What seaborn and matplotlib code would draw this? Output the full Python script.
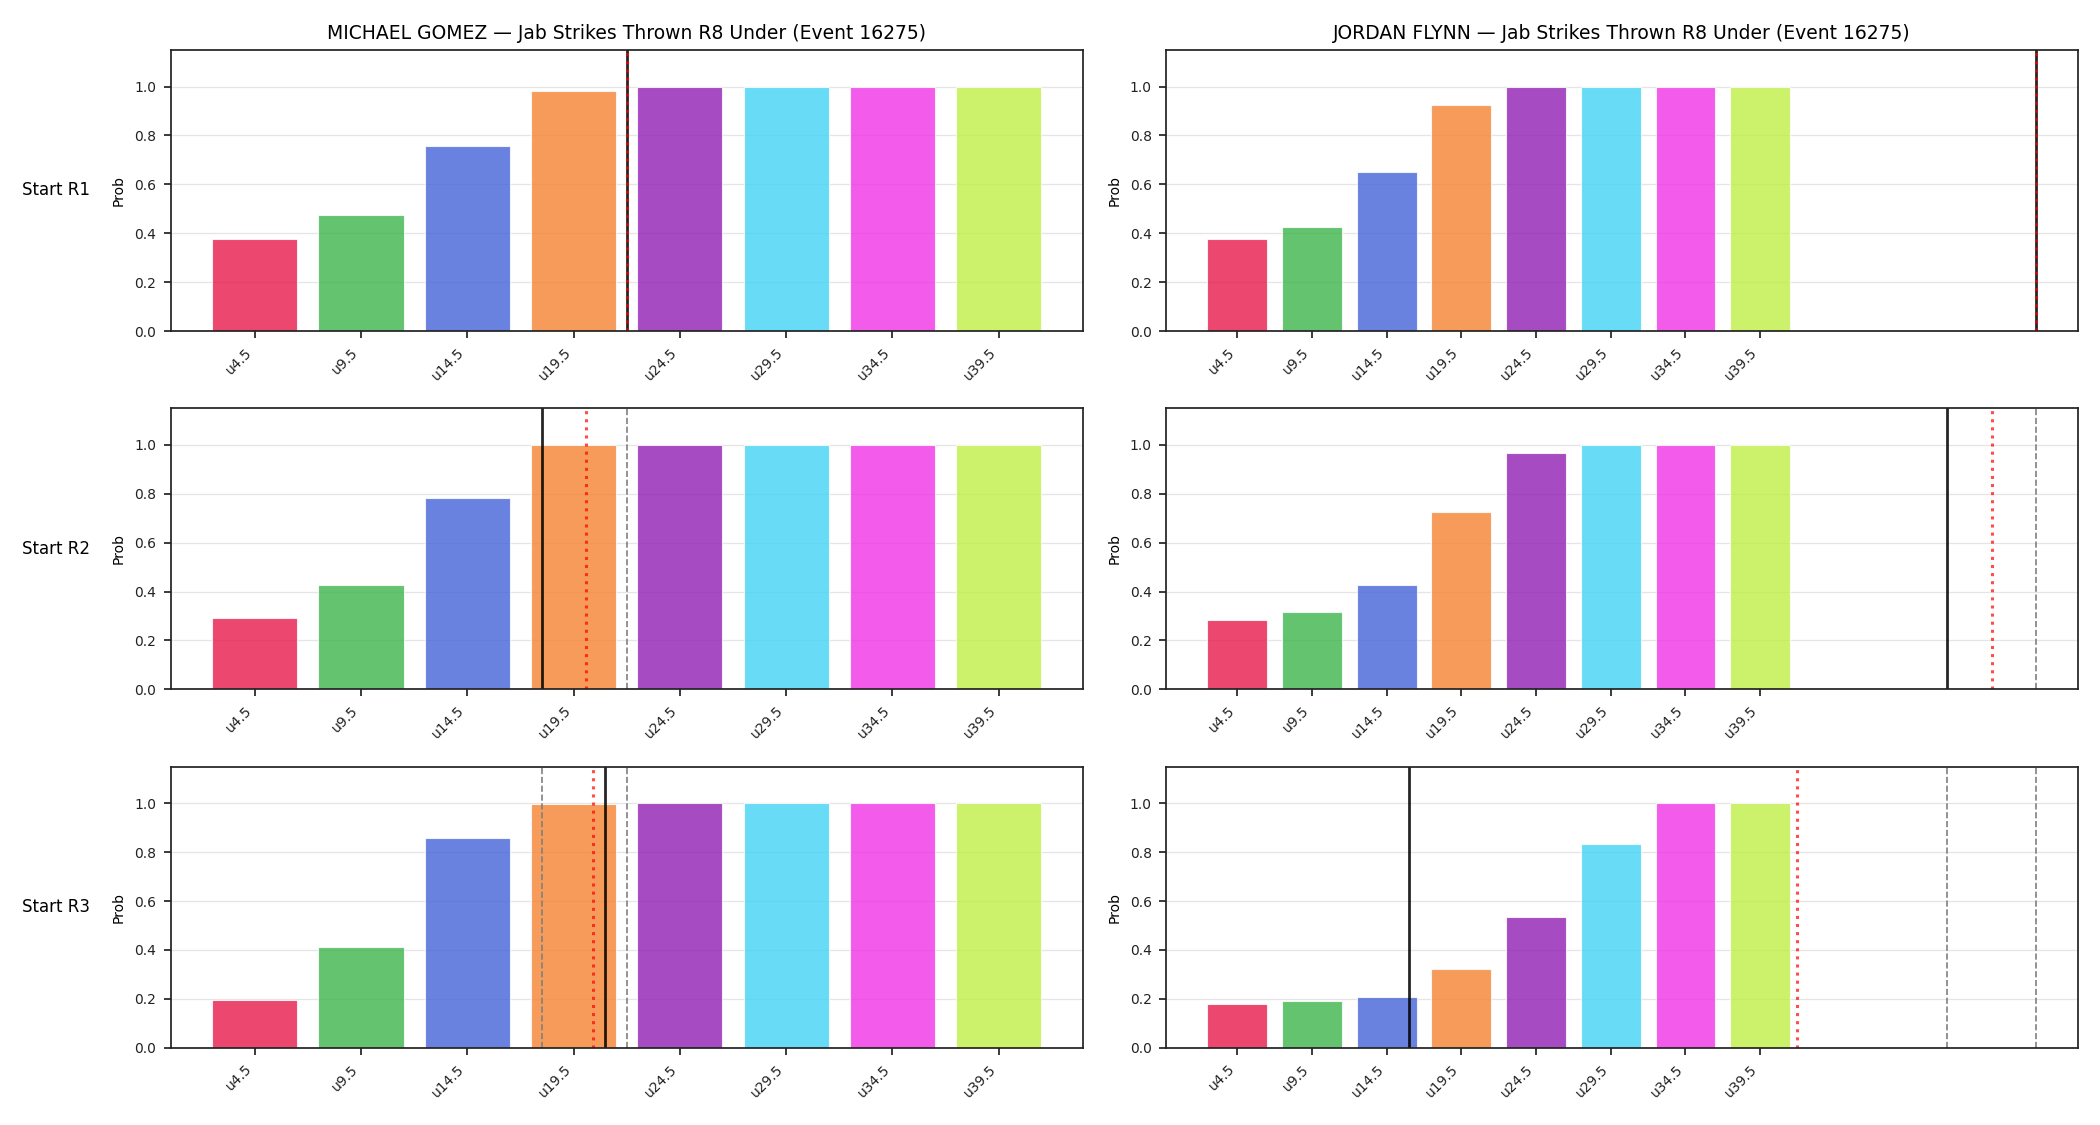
import numpy as np
import pandas as pd
import matplotlib
matplotlib.use("Agg")
import matplotlib.pyplot as plt
import seaborn as sns

# lineas (umbrales) del mercado
thresholds = [4.5, 9.5, 14.5, 19.5, 24.5, 29.5, 34.5, 39.5]
tick_labels = ["u4.5", "u9.5", "u14.5", "u19.5", "u24.5", "u29.5", "u34.5", "u39.5"]
bar_colors = ["#e6194b", "#3cb44b", "#4363d8", "#f58231",
              "#911eb4", "#42d4f4", "#f032e6", "#bfef45"]

fighters = ["MICHAEL GOMEZ", "JORDAN FLYNN"]
row_labels = ["Start R1", "Start R2", "Start R3"]

# probabilidad under por ronda de inicio
gomez_r1 = [0.378, 0.476, 0.759, 0.981, 1.0, 1.0, 1.0, 1.0]
gomez_r2 = [0.292, 0.426, 0.781, 0.998, 1.0, 1.0, 1.0, 1.0]
gomez_r3 = [0.196, 0.412, 0.859, 0.999, 1.0, 1.0, 1.0, 1.0]
flynn_r1 = [0.375, 0.427, 0.650, 0.923, 1.0, 1.0, 1.0, 1.0]
flynn_r2 = [0.284, 0.316, 0.427, 0.726, 0.966, 1.0, 1.0, 1.0]
flynn_r3 = [0.179, 0.191, 0.207, 0.322, 0.536, 0.834, 1.0, 1.0]

# referencias verticales (en golpes)
gomez_current = [22, 18, 21]
gomez_proj = [22, 20.1, 20.4]
flynn_current = [58, 52, 16]
flynn_proj = [58, 55, 42]

probs = {
    "MICHAEL GOMEZ": [gomez_r1, gomez_r2, gomez_r3],
    "JORDAN FLYNN": [flynn_r1, flynn_r2, flynn_r3],
}
current = {"MICHAEL GOMEZ": gomez_current, "JORDAN FLYNN": flynn_current}
proj = {"MICHAEL GOMEZ": gomez_proj, "JORDAN FLYNN": flynn_proj}

sns.set_style("ticks")
plt.rcParams["font.family"] = ["DejaVu Sans"]
plt.rcParams.update({
    "axes.linewidth": 1.25,
    "axes.edgecolor": "#222222",
    "xtick.color": "#222222",
    "ytick.color": "#222222",
    "xtick.major.width": 1.25,
    "ytick.major.width": 1.25,
    "xtick.major.size": 4.8,
    "ytick.major.size": 4.8,
    "xtick.major.pad": 5.5,
    "ytick.major.pad": 5.5,
    "xtick.labelsize": 10,
    "ytick.labelsize": 10,
    "axes.labelsize": 10,
    "axes.titlesize": 13.5,
    "text.color": "black",
    "axes.labelcolor": "black",
})

fig, axes = plt.subplots(3, 2, figsize=(21, 11.25), dpi=100)
plt.subplots_adjust(left=0.0813, right=0.9895, top=0.9556, bottom=0.0687,
                    wspace=0.0913, hspace=0.275)

for col, name in enumerate(fighters):
    for row in range(3):
        ax = axes[row, col]
        df = pd.DataFrame({"line": thresholds, "prob": probs[name][row],
                           "label": tick_labels})
        sns.barplot(data=df, x="line", y="prob", hue="label",
                    palette=bar_colors, hue_order=tick_labels,
                    native_scale=True, dodge=False, legend=False,
                    errorbar=None, saturation=1, alpha=0.8,
                    edgecolor="white", linewidth=0.8, ax=ax)

        # valores previos (rondas anteriores)
        for prev in current[name][:row]:
            ax.axvline(prev, color="gray", linestyle="--", linewidth=1.2)
        ax.axvline(current[name][row], color="black", alpha=0.85, linewidth=2)
        ax.axvline(proj[name][row], color="red", alpha=0.7,
                   linestyle=":", linewidth=2.2)

        ax.set_ylim(0, 1.15)
        ax.set_yticks([0, 0.2, 0.4, 0.6, 0.8, 1.0])
        ax.set_xticks(thresholds)
        ax.set_xticklabels(tick_labels, rotation=45, ha="right")
        ax.grid(axis="y", color="#e5e5e5", linewidth=0.9)
        ax.set_axisbelow(True)
        ax.set_xlabel("")
        ax.set_ylabel("Prob", labelpad=6)

        if row == 0:
            ax.set_title(f"{name} — Jab Strikes Thrown R8 Under (Event 16275)", pad=8)
        if col == 0:
            ax.text(-0.088, 0.5, row_labels[row], transform=ax.transAxes,
                    ha="right", va="center", fontsize=12)

plt.savefig("out.png", dpi=100)
plt.close()
